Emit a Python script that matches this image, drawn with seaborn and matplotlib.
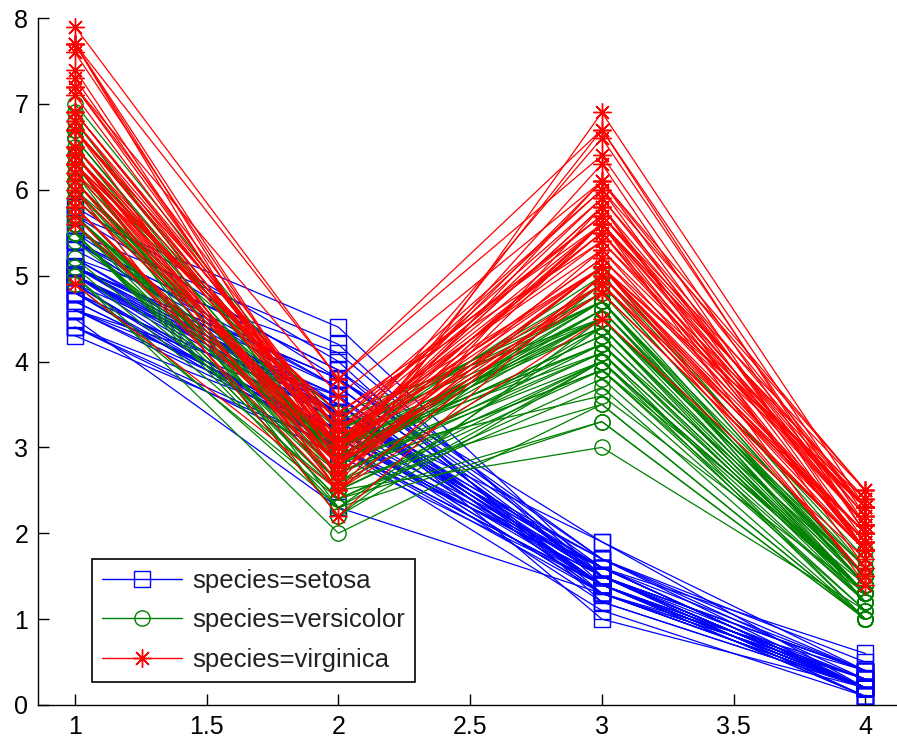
import numpy as np
import pandas as pd
import matplotlib
matplotlib.use("Agg")
import matplotlib.pyplot as plt
from matplotlib.lines import Line2D
import seaborn as sns

# Fisher's iris measurements, one array per variable (rows grouped by species)
sepal_length = [
    5.1, 4.9, 4.7, 4.6, 5.0, 5.4, 4.6, 5.0, 4.4, 4.9, 5.4, 4.8, 4.8, 4.3, 5.8, 5.7, 5.4, 5.1, 5.7, 5.1,
    5.4, 5.1, 4.6, 5.1, 4.8, 5.0, 5.0, 5.2, 5.2, 4.7, 4.8, 5.4, 5.2, 5.5, 4.9, 5.0, 5.5, 4.9, 4.4, 5.1,
    5.0, 4.5, 4.4, 5.0, 5.1, 4.8, 5.1, 4.6, 5.3, 5.0,
    7.0, 6.4, 6.9, 5.5, 6.5, 5.7, 6.3, 4.9, 6.6, 5.2, 5.0, 5.9, 6.0, 6.1, 5.6, 6.7, 5.6, 5.8, 6.2, 5.6,
    5.9, 6.1, 6.3, 6.1, 6.4, 6.6, 6.8, 6.7, 6.0, 5.7, 5.5, 5.5, 5.8, 6.0, 5.4, 6.0, 6.7, 6.3, 5.6, 5.5,
    5.5, 6.1, 5.8, 5.0, 5.6, 5.7, 5.7, 6.2, 5.1, 5.7,
    6.3, 5.8, 7.1, 6.3, 6.5, 7.6, 4.9, 7.3, 6.7, 7.2, 6.5, 6.4, 6.8, 5.7, 5.8, 6.4, 6.5, 7.7, 7.7, 6.0,
    6.9, 5.6, 7.7, 6.3, 6.7, 7.2, 6.2, 6.1, 6.4, 7.2, 7.4, 7.9, 6.4, 6.3, 6.1, 7.7, 6.3, 6.4, 6.0, 6.9,
    6.7, 6.9, 5.8, 6.8, 6.7, 6.7, 6.3, 6.5, 6.2, 5.9,
]
sepal_width = [
    3.5, 3.0, 3.2, 3.1, 3.6, 3.9, 3.4, 3.4, 2.9, 3.1, 3.7, 3.4, 3.0, 3.0, 4.0, 4.4, 3.9, 3.5, 3.8, 3.8,
    3.4, 3.7, 3.6, 3.3, 3.4, 3.0, 3.4, 3.5, 3.4, 3.2, 3.1, 3.4, 4.1, 4.2, 3.1, 3.2, 3.5, 3.6, 3.0, 3.4,
    3.5, 2.3, 3.2, 3.5, 3.8, 3.0, 3.8, 3.2, 3.7, 3.3,
    3.2, 3.2, 3.1, 2.3, 2.8, 2.8, 3.3, 2.4, 2.9, 2.7, 2.0, 3.0, 2.2, 2.9, 2.9, 3.1, 3.0, 2.7, 2.2, 2.5,
    3.2, 2.8, 2.5, 2.8, 2.9, 3.0, 2.8, 3.0, 2.9, 2.6, 2.4, 2.4, 2.7, 2.7, 3.0, 3.4, 3.1, 2.3, 3.0, 2.5,
    2.6, 3.0, 2.6, 2.3, 2.7, 3.0, 2.9, 2.9, 2.5, 2.8,
    3.3, 2.7, 3.0, 2.9, 3.0, 3.0, 2.5, 2.9, 2.5, 3.6, 3.2, 2.7, 3.0, 2.5, 2.8, 3.2, 3.0, 3.8, 2.6, 2.2,
    3.2, 2.8, 2.8, 2.7, 3.3, 3.2, 2.8, 3.0, 2.8, 3.0, 2.8, 3.8, 2.8, 2.8, 2.6, 3.0, 3.4, 3.1, 3.0, 3.1,
    3.1, 3.1, 2.7, 3.2, 3.3, 3.0, 2.5, 3.0, 3.4, 3.0,
]
petal_length = [
    1.4, 1.4, 1.3, 1.5, 1.4, 1.7, 1.4, 1.5, 1.4, 1.5, 1.5, 1.6, 1.4, 1.1, 1.2, 1.5, 1.3, 1.4, 1.7, 1.5,
    1.7, 1.5, 1.0, 1.7, 1.9, 1.6, 1.6, 1.5, 1.4, 1.6, 1.6, 1.5, 1.5, 1.4, 1.5, 1.2, 1.3, 1.4, 1.3, 1.5,
    1.3, 1.3, 1.3, 1.6, 1.9, 1.4, 1.6, 1.4, 1.5, 1.4,
    4.7, 4.5, 4.9, 4.0, 4.6, 4.5, 4.7, 3.3, 4.6, 3.9, 3.5, 4.2, 4.0, 4.7, 3.6, 4.4, 4.5, 4.1, 4.5, 3.9,
    4.8, 4.0, 4.9, 4.7, 4.3, 4.4, 4.8, 5.0, 4.5, 3.5, 3.8, 3.7, 3.9, 5.1, 4.5, 4.5, 4.7, 4.4, 4.1, 4.0,
    4.4, 4.6, 4.0, 3.3, 4.2, 4.2, 4.2, 4.3, 3.0, 4.1,
    6.0, 5.1, 5.9, 5.6, 5.8, 6.6, 4.5, 6.3, 5.8, 6.1, 5.1, 5.3, 5.5, 5.0, 5.1, 5.3, 5.5, 6.7, 6.9, 5.0,
    5.7, 4.9, 6.7, 4.9, 5.7, 6.0, 4.8, 4.9, 5.6, 5.8, 6.1, 6.4, 5.6, 5.1, 5.6, 6.1, 5.6, 5.5, 4.8, 5.4,
    5.6, 5.1, 5.1, 5.9, 5.7, 5.2, 5.0, 5.2, 5.4, 5.1,
]
petal_width = [
    0.2, 0.2, 0.2, 0.2, 0.2, 0.4, 0.3, 0.2, 0.2, 0.1, 0.2, 0.2, 0.1, 0.1, 0.2, 0.4, 0.4, 0.3, 0.3, 0.3,
    0.2, 0.4, 0.2, 0.5, 0.2, 0.2, 0.4, 0.2, 0.2, 0.2, 0.2, 0.4, 0.1, 0.2, 0.2, 0.2, 0.2, 0.1, 0.2, 0.2,
    0.3, 0.3, 0.2, 0.6, 0.4, 0.3, 0.2, 0.2, 0.2, 0.2,
    1.4, 1.5, 1.5, 1.3, 1.5, 1.3, 1.6, 1.0, 1.3, 1.4, 1.0, 1.5, 1.0, 1.4, 1.3, 1.4, 1.5, 1.0, 1.5, 1.1,
    1.8, 1.3, 1.5, 1.2, 1.3, 1.4, 1.4, 1.7, 1.5, 1.0, 1.1, 1.0, 1.2, 1.6, 1.5, 1.6, 1.5, 1.3, 1.3, 1.3,
    1.2, 1.4, 1.2, 1.0, 1.3, 1.2, 1.3, 1.3, 1.1, 1.3,
    2.5, 1.9, 2.1, 1.8, 2.2, 2.1, 1.7, 1.8, 1.8, 2.5, 2.0, 1.9, 2.1, 2.0, 2.4, 2.3, 1.8, 2.2, 2.3, 1.5,
    2.3, 2.0, 2.0, 1.8, 2.1, 1.8, 1.8, 1.8, 2.1, 1.6, 1.9, 2.0, 2.2, 1.5, 1.4, 2.3, 2.4, 1.8, 1.8, 2.1,
    2.4, 2.3, 1.9, 2.3, 2.5, 2.3, 1.9, 2.0, 2.3, 1.8,
]
species = ["setosa"] * 50 + ["versicolor"] * 50 + ["virginica"] * 50

species_order = ["setosa", "versicolor", "virginica"]
species_colors = {"setosa": (0, 0, 1), "versicolor": (0, 0.5, 0), "virginica": (1, 0, 0)}
species_markers = {"setosa": "s", "versicolor": "o", "virginica": (8, 2, 0)}
x_ticks = [1, 1.5, 2, 2.5, 3, 3.5, 4]
x_tick_labels = ["1", "1.5", "2", "2.5", "3", "3.5", "4"]
y_ticks = [0, 1, 2, 3, 4, 5, 6, 7, 8]

wide = pd.DataFrame({
    "id": np.arange(len(species)),
    "species": species,
    1: sepal_length,
    2: sepal_width,
    3: petal_length,
    4: petal_width,
})
df = wide.melt(id_vars=["id", "species"], var_name="coord", value_name="value")
df["coord"] = df["coord"].astype(float)

sns.set_style("white")
plt.rcParams["font.family"] = ["Liberation Sans", "DejaVu Sans"]

fig = plt.figure(figsize=(8.97, 7.40), dpi=100)
ax = fig.add_axes([38 / 897, 35 / 740, 859 / 897, 687 / 740])

msize = {"setosa": 11, "versicolor": 11, "virginica": 13}
for sp in species_order:
    col = species_colors[sp]
    sns.lineplot(
        data=df[df["species"] == sp], x="coord", y="value", units="id",
        estimator=None, sort=False, color=col, marker=species_markers[sp],
        markersize=msize[sp], mfc="none", mec=col,
        mew=1.0, lw=0.9, ax=ax, legend=False,
    )

ax.set_xlim(0.86, 4.12)
ax.set_ylim(0, 8)
ax.set_xticks(x_ticks)
ax.set_xticklabels(x_tick_labels)
ax.set_yticks(y_ticks)
ax.set_xlabel("")
ax.set_ylabel("")
ax.tick_params(direction="in", length=8, width=1, labelsize=18, colors="black",
               top=False, right=False, left=True, bottom=True, pad=7)
for side in ["top", "right"]:
    ax.spines[side].set_visible(False)
for side in ["left", "bottom"]:
    ax.spines[side].set_color("black")
    ax.spines[side].set_linewidth(1.0)

handles = [
    Line2D([], [], color=species_colors[sp], marker=species_markers[sp], mfc="none",
           mec=species_colors[sp], markersize=msize[sp], lw=1)
    for sp in species_order
]
leg = ax.legend(handles, ["species=" + sp for sp in species_order],
                loc="lower left", bbox_to_anchor=(54 / 859, 23 / 687), borderaxespad=0,
                fontsize=18.5, handlelength=3.1, handletextpad=0.4, frameon=True,
                fancybox=False, edgecolor="black", framealpha=1, labelspacing=0.6,
                borderpad=0.4)
leg.get_frame().set_linewidth(1.2)
for t in leg.get_texts():
    t.set_color("#222222")

fig.savefig("out.png", dpi=100)
